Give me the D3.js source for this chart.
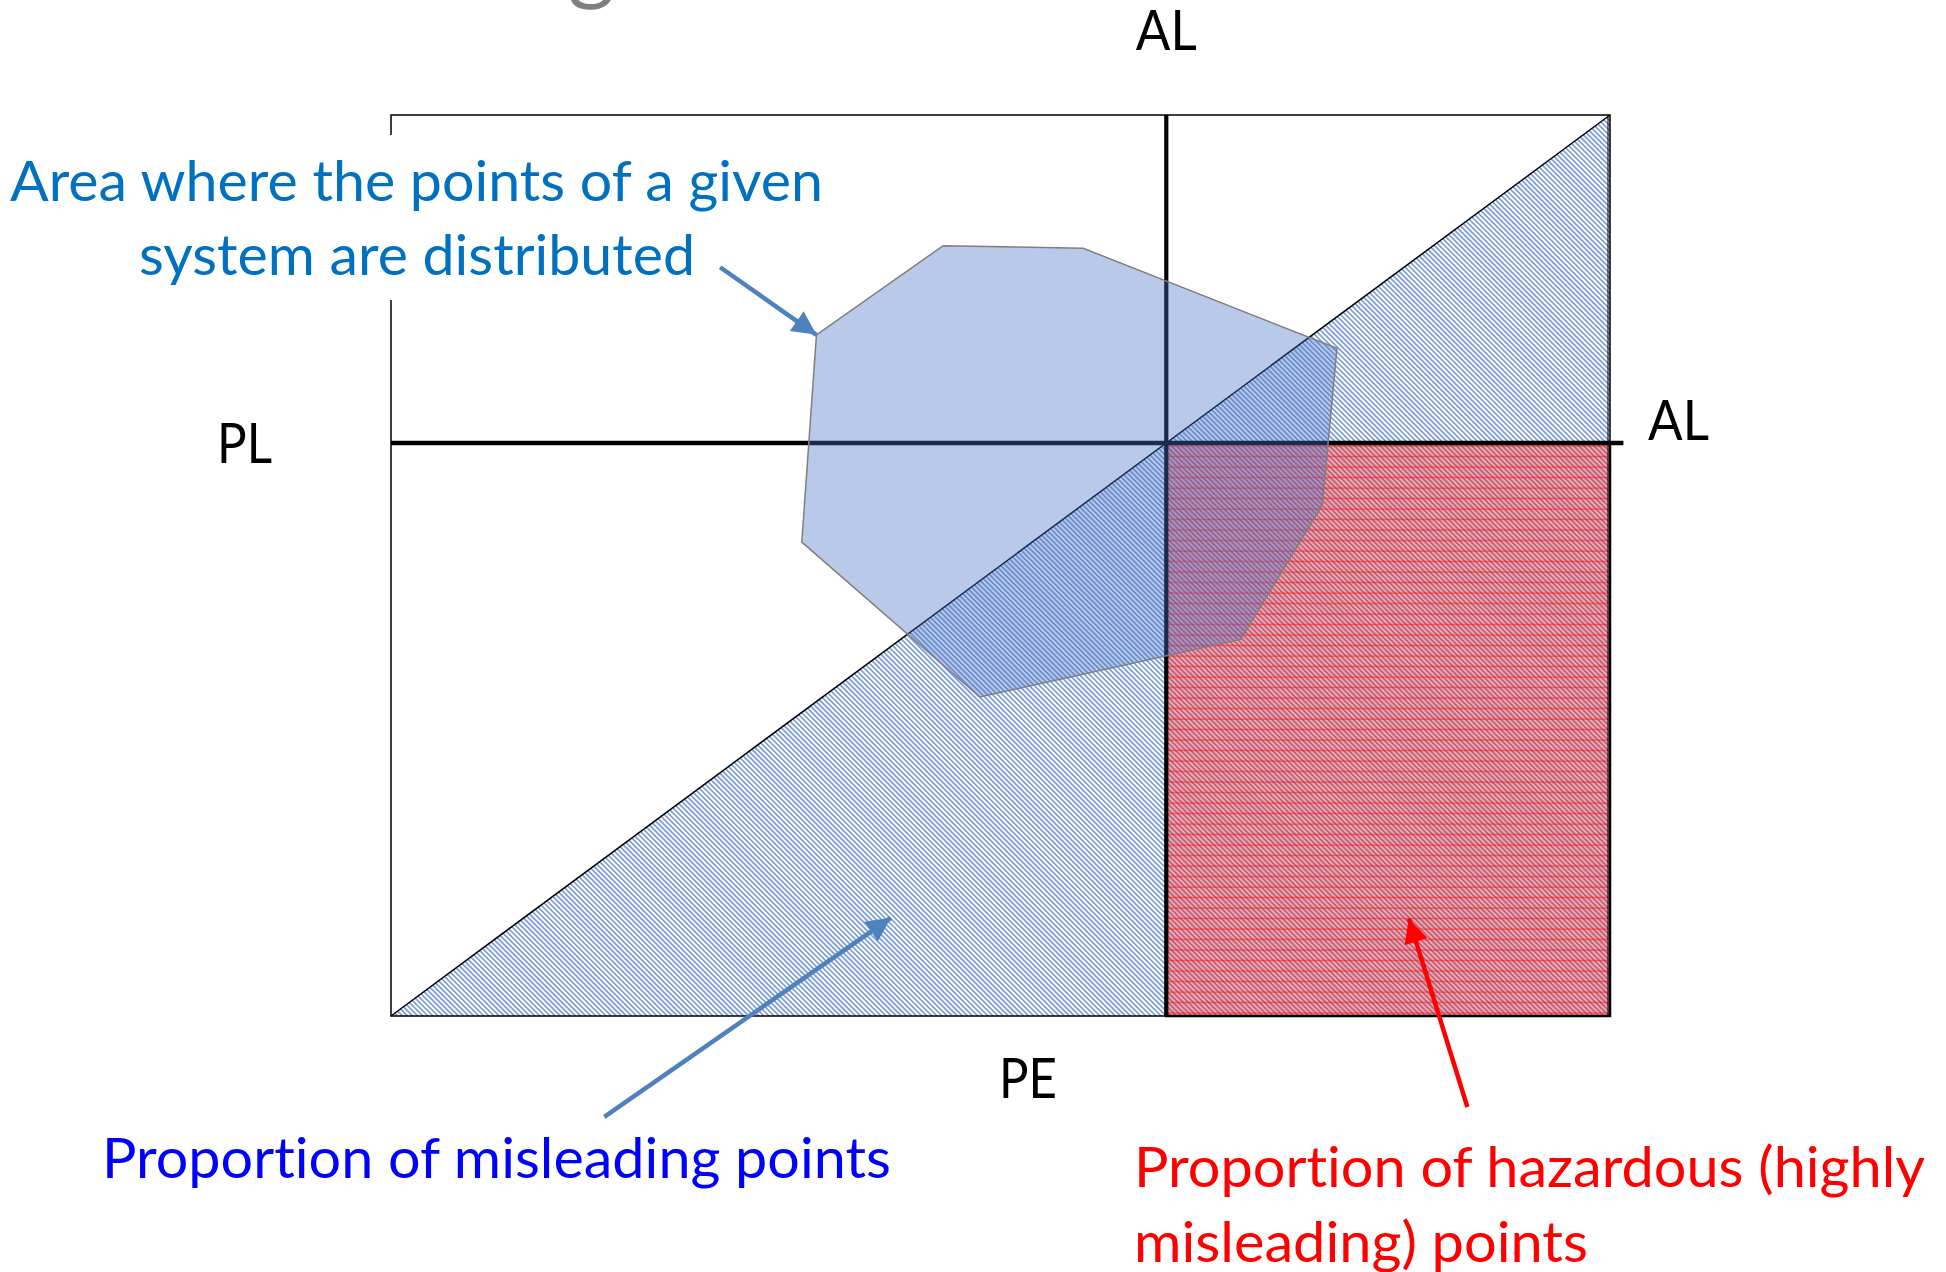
<!DOCTYPE html>
<html>
<head>
<meta charset="utf-8">
<script src="https://cdn.jsdelivr.net/npm/d3@7"></script>
<style>
  body { margin: 0; background: #fff; }
  text { font-family: Lato, "Open Sans", sans-serif; font-variant-ligatures: none; }
</style>
</head>
<body>
<div id="chart"></div>
<script>
// normalised PE (x) / PL (y) space, alert limit on both axes
const AL = 0.636;

const triangle = [[0, 0], [1, 0], [1, 1]];
const hazardZone = [[AL, 0], [1, AL]];

// outline of the area where the points of one system fall
const systemArea = [
  [0.453, 0.855], [0.568, 0.852], [0.776, 0.741], [0.764, 0.567],
  [0.697, 0.418], [0.483, 0.354], [0.337, 0.526], [0.349, 0.756]
];

// annotation arrows: start -> tip
const arrows = [
  { from: [0.270, 0.831], to: [0.349, 0.756], color: "#4F81BD" },
  { from: [0.175, -0.112], to: [0.410, 0.109], color: "#4F81BD" },
  { from: [0.883, -0.101], to: [0.835, 0.108], color: "#FF0000" }
];

const width = 1946, height = 1272;

let svg = d3.select("#chart")
            .append("svg")
            .attr("width", width)
            .attr("height", height);

svg.append("rect").attr("width", width).attr("height", height).attr("fill", "#fff");

let x = d3.scaleLinear().domain([0, 1]).range([391, 1610]);
let y = d3.scaleLinear().domain([0, 1]).range([1016, 115]);

let defs = svg.append("defs");

defs.append("pattern")
    .attr("id", "hatch")
    .attr("patternUnits", "userSpaceOnUse")
    .attr("width", 3.6).attr("height", 3.6)
    .attr("patternTransform", "rotate(-45)")
  .append("line")
    .attr("x1", 1.8).attr("y1", 0).attr("x2", 1.8).attr("y2", 3.6)
    .attr("stroke", "#4472C4").attr("stroke-width", 1.2);

defs.append("pattern")
    .attr("id", "redlines")
    .attr("patternUnits", "userSpaceOnUse")
    .attr("width", 10).attr("height", 10.5)
  .append("line")
    .attr("x1", 0).attr("y1", 5).attr("x2", 10).attr("y2", 5)
    .attr("stroke", "#FF1010").attr("stroke-width", 0.8);

arrows.forEach((a, i) => {
  defs.append("marker")
      .attr("id", "head" + i)
      .attr("viewBox", "0 0 10 10")
      .attr("refX", 10).attr("refY", 5)
      .attr("markerUnits", "userSpaceOnUse")
      .attr("markerWidth", 28).attr("markerHeight", 24)
      .attr("orient", "auto")
    .append("path")
      .attr("d", "M0,0 L10,5 L0,10 z")
      .attr("fill", a.color);
});

let line = d3.line().x(d => x(d[0])).y(d => y(d[1]));

// misleading region (below the diagonal)
svg.append("path")
   .attr("d", line(triangle) + "Z")
   .attr("fill", "url(#hatch)");

svg.append("path")
   .attr("d", line([[0, 0], [1, 1]]))
   .attr("stroke", "#000").attr("stroke-width", 1.5);

// hazardous region
let hz = svg.append("g");
hz.append("rect")
  .attr("x", x(hazardZone[0][0])).attr("y", y(hazardZone[1][1]))
  .attr("width", x(hazardZone[1][0]) - x(hazardZone[0][0]))
  .attr("height", y(hazardZone[0][1]) - y(hazardZone[1][1]))
  .attr("fill", "#FF0000").attr("fill-opacity", 0.36);
hz.append("rect")
  .attr("x", x(hazardZone[0][0])).attr("y", y(hazardZone[1][1]))
  .attr("width", x(hazardZone[1][0]) - x(hazardZone[0][0]))
  .attr("height", y(hazardZone[0][1]) - y(hazardZone[1][1]))
  .attr("fill", "url(#redlines)")
  .attr("stroke", "#000").attr("stroke-width", 2.5);

// frame
svg.append("rect")
   .attr("x", x(0)).attr("y", y(1))
   .attr("width", x(1) - x(0)).attr("height", y(0) - y(1))
   .attr("fill", "none").attr("stroke", "#000").attr("stroke-width", 1.5);

svg.append("line")
   .attr("x1", x(1) - 2).attr("x2", x(1) - 2).attr("y1", y(1)).attr("y2", y(0))
   .attr("stroke", "#000").attr("stroke-width", 1);

// alert limit lines
svg.append("line")
   .attr("x1", x(AL)).attr("x2", x(AL)).attr("y1", y(1)).attr("y2", y(0))
   .attr("stroke", "#000").attr("stroke-width", 4.2);
svg.append("line")
   .attr("x1", x(0)).attr("x2", x(1.011)).attr("y1", y(AL)).attr("y2", y(AL))
   .attr("stroke", "#000").attr("stroke-width", 4.5);

// system area
svg.append("path")
   .attr("d", line(systemArea) + "Z")
   .attr("fill", "#4472C4").attr("fill-opacity", 0.38)
   .attr("stroke", "#7F7F7F").attr("stroke-width", 1.5);

// axis labels
svg.append("text").text("AL")
   .attr("x", x(AL)).attr("y", 50).attr("text-anchor", "middle")
   .attr("font-size", 57).attr("textLength", 61).attr("lengthAdjust", "spacingAndGlyphs");
svg.append("text").text("AL")
   .attr("x", x(1) + 38).attr("y", y(AL) - 3)
   .attr("font-size", 57).attr("textLength", 61).attr("lengthAdjust", "spacingAndGlyphs");
svg.append("text").text("PL")
   .attr("x", x(0) - 119).attr("y", y(AL) + 20).attr("text-anchor", "end")
   .attr("font-size", 57).attr("textLength", 55).attr("lengthAdjust", "spacingAndGlyphs");
svg.append("text").text("PE")
   .attr("x", x(0.5226)).attr("y", 1098).attr("text-anchor", "middle")
   .attr("font-size", 57).attr("textLength", 58).attr("lengthAdjust", "spacingAndGlyphs");

// cropped title remnant
svg.append("text").text("g")
   .attr("x", 568).attr("y", -7)
   .attr("font-size", 90).attr("fill", "#7F7F7F");

// annotation box covering the frame
svg.append("rect")
   .attr("x", 0).attr("y", 135).attr("width", 830).attr("height", 165)
   .attr("fill", "#fff");

let notes = [
  { t: "Area where the points of a given", x: 10, y: 201, w: 813, c: "#0070C0" },
  { t: "system are distributed", x: 139, y: 275, w: 556, c: "#0070C0" },
  { t: "Proportion of misleading points", x: 102, y: 1178, w: 789, c: "#0000FF" },
  { t: "Proportion of hazardous (highly", x: 1134, y: 1187, w: 791, c: "#FF0000" },
  { t: "misleading) points", x: 1134, y: 1262, w: 454, c: "#FF0000" }
];

svg.selectAll("text.note")
   .data(notes)
   .join("text")
   .attr("class", "note")
   .attr("x", d => d.x).attr("y", d => d.y)
   .attr("font-size", 57)
   .attr("fill", d => d.c)
   .attr("textLength", d => d.w)
   .attr("lengthAdjust", "spacingAndGlyphs")
   .text(d => d.t);

svg.selectAll("line.arrow")
   .data(arrows)
   .join("line")
   .attr("class", "arrow")
   .attr("x1", d => x(d.from[0])).attr("y1", d => y(d.from[1]))
   .attr("x2", d => x(d.to[0])).attr("y2", d => y(d.to[1]))
   .attr("stroke", d => d.color)
   .attr("stroke-width", 4.5)
   .attr("marker-end", (d, i) => "url(#head" + i + ")");
</script>
</body>
</html>
